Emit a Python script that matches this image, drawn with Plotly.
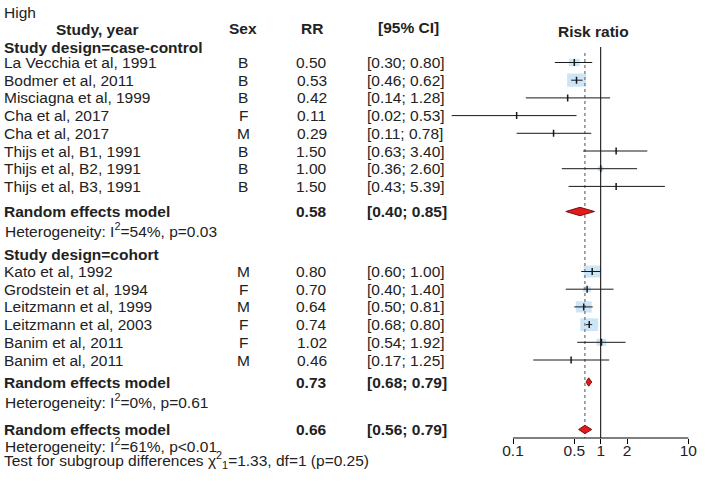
import math
import plotly.graph_objects as go

# ---------------- data ----------------
cc_study = ["La Vecchia et al, 1991", "Bodmer et al, 2011", "Misciagna et al, 1999",
            "Cha et al, 2017", "Cha et al, 2017", "Thijs et al, B1, 1991",
            "Thijs et al, B2, 1991", "Thijs et al, B3, 1991"]
cc_sex = ["B", "B", "B", "F", "M", "B", "B", "B"]
cc_rr = [0.50, 0.53, 0.42, 0.11, 0.29, 1.50, 1.00, 1.50]
cc_lo = [0.30, 0.46, 0.14, 0.02, 0.11, 0.63, 0.36, 0.43]
cc_hi = [0.80, 0.62, 1.28, 0.53, 0.78, 3.40, 2.60, 5.39]
cc_weight = [11, 19, 3, 2, 3, 3, 6, 2]

co_study = ["Kato et al, 1992", "Grodstein et al, 1994", "Leitzmann et al, 1999",
            "Leitzmann et al, 2003", "Banim et al, 2011", "Banim et al, 2011"]
co_sex = ["M", "F", "M", "F", "F", "M"]
co_rr = [0.80, 0.70, 0.64, 0.74, 1.02, 0.46]
co_lo = [0.60, 0.40, 0.50, 0.68, 0.54, 0.17]
co_hi = [1.00, 1.40, 0.81, 0.80, 1.92, 1.25]
co_weight = [17, 8, 16, 18, 10, 2]

summary_label = ["case-control", "cohort", "overall"]
summary_rr = [0.58, 0.73, 0.66]
summary_lo = [0.40, 0.68, 0.56]
summary_hi = [0.85, 0.79, 0.79]
heterogeneity = ["Heterogeneity: I<sup>2</sup>=54%, p=0.03",
                 "Heterogeneity: I<sup>2</sup>=0%, p=0.61",
                 "Heterogeneity: I<sup>2</sup>=61%, p<0.01"]
test_text = "Test for subgroup differences \u03c7<sup>2</sup><sub>1</sub>=1.33, df=1 (p=0.25)"

tick_vals = [0.1, 0.5, 1, 2, 10]
tick_text = ["0.1", "0.5", "1", "2", "10"]

# ---------------- layout constants ----------------
W, H = 707, 491
FONT = "Liberation Sans, Arial, sans-serif"
FS = 15.5
TXT = "#222222"
BOX = "#cce6f7"
X_DOM = (437.2, 697.7)
X_RANGE = (-1.9, 1.05)
PX_PER_DEC = (X_DOM[1] - X_DOM[0]) / (X_RANGE[1] - X_RANGE[0])
STEP = 17.7
cc_y = [62.5 + i * STEP for i in range(len(cc_study))]
co_y = [271.5 + i * STEP for i in range(len(co_study))]
summary_y = [211.5, 382.0, 429.5]
het_y = [230.0, 401.0, 444.5]
AXIS_Y = 438.0

COL_NAME, COL_SEX, COL_RR, COL_CI = 4, 245, 314, 370

fig = go.Figure()


def txt(x, y, s, anchor="left", bold=False):
    fig.add_annotation(x=x / W, y=y, xref="paper", yref="y",
                       text=f"<b>{s}</b>" if bold else s, showarrow=False,
                       xanchor=anchor, yanchor="middle", borderpad=0, borderwidth=0,
                       font=dict(family=FONT, size=FS, color=TXT))


def ci_str(lo, hi):
    return f"[{lo:.2f}; {hi:.2f}]"


# headers
txt(COL_NAME, 12, "High")
txt(98, 29, "Study, year", "center", True)
txt(COL_SEX, 28, "Sex", "center", True)
txt(COL_RR, 28, "RR", "center", True)
txt(411, 27, "[95% CI]", "center", True)
txt(598, 31, "Risk ratio", "center", True)
txt(COL_NAME, 47, "Study design=case-control", bold=True)
txt(COL_NAME, 254.5, "Study design=cohort", bold=True)

# study rows
all_rr, all_lo, all_hi, all_w, all_y = [], [], [], [], []
for names, sexes, rr, lo, hi, wt, ys in [
    (cc_study, cc_sex, cc_rr, cc_lo, cc_hi, cc_weight, cc_y),
    (co_study, co_sex, co_rr, co_lo, co_hi, co_weight, co_y),
]:
    for n, s, r, l, h, w, y in zip(names, sexes, rr, lo, hi, wt, ys):
        txt(COL_NAME, y, n)
        txt(COL_SEX, y, s, "center")
        txt(COL_RR, y, f"{r:.2f}", "center")
        txt(COL_CI, y, ci_str(l, h))
        all_rr.append(r); all_lo.append(l); all_hi.append(h); all_w.append(w); all_y.append(y)

# summary rows
for r, l, h, y, hy, ht in zip(summary_rr, summary_lo, summary_hi, summary_y, het_y, heterogeneity):
    txt(COL_NAME, y, "Random effects model", bold=True)
    txt(COL_RR, y, f"{r:.2f}", "center", True)
    txt(COL_CI, y, ci_str(l, h), bold=True)
    txt(COL_NAME + 1, hy, ht)
txt(COL_NAME, 459.5, test_text)

# weight boxes
for r, w, y in zip(all_rr, all_w, all_y):
    hw = w / 2 / PX_PER_DEC
    hh = 0.7 * w / 2
    fig.add_shape(type="rect", xref="x", yref="y", layer="below",
                  x0=math.log10(r) - hw, x1=math.log10(r) + hw, y0=y - hh, y1=y + hh,
                  fillcolor=BOX, line=dict(width=0))

# reference lines
fig.add_shape(type="line", xref="x", yref="y", layer="below", x0=0, x1=0, y0=47, y1=AXIS_Y,
              line=dict(color="black", width=1))
fig.add_shape(type="line", xref="x", yref="y", layer="below",
              x0=math.log10(summary_rr[2]), x1=math.log10(summary_rr[2]), y0=53, y1=AXIS_Y,
              line=dict(color="#8a8a8a", width=1.5, dash="dot"))
fig.add_shape(type="line", xref="x", yref="y", x0=math.log10(tick_vals[0]),
              x1=math.log10(tick_vals[-1]), y0=AXIS_Y, y1=AXIS_Y,
              line=dict(color="black", width=1))

# CI lines
cx, cy = [], []
for l, h, y in zip(all_lo, all_hi, all_y):
    cx += [math.log10(l), math.log10(h), None]
    cy += [y, y, None]
fig.add_trace(go.Scatter(x=cx, y=cy, mode="lines", line=dict(color="#1a1a1a", width=1),
                         hoverinfo="skip"))
fig.add_trace(go.Scatter(x=[math.log10(r) for r in all_rr], y=all_y, mode="markers",
                         marker=dict(symbol="line-ns", size=5,
                                     line=dict(color="#1a1a1a", width=1.5)),
                         hoverinfo="skip"))

# diamonds
DH = 4.2
for r, l, h, y in zip(summary_rr, summary_lo, summary_hi, summary_y):
    fig.add_trace(go.Scatter(
        x=[math.log10(l), math.log10(r), math.log10(h), math.log10(r), math.log10(l)],
        y=[y, y - DH, y, y + DH, y], mode="lines", fill="toself",
        fillcolor="#e3191c", line=dict(color="#7a1010", width=1), hoverinfo="skip"))

fig.update_layout(
    width=W, height=H, margin=dict(l=0, r=0, t=0, b=0),
    paper_bgcolor="white", plot_bgcolor="white", showlegend=False,
    xaxis=dict(domain=[X_DOM[0] / W, X_DOM[1] / W], range=list(X_RANGE),
               tickvals=[math.log10(v) for v in tick_vals], ticktext=tick_text,
               ticks="outside", ticklen=5, tickcolor="black", tickwidth=1,
               ticklabelstandoff=-7,
               showline=False, showgrid=False, zeroline=False,
               anchor="free", position=(H - AXIS_Y) / H,
               tickfont=dict(family=FONT, size=FS, color=TXT)),
    yaxis=dict(domain=[0, 1], range=[H, 0], visible=False, showgrid=False, zeroline=False),
)

fig.write_html(
    "out.html", config={"displayModeBar": False},
    post_script=("document.documentElement.style.overflow='hidden';"
                 "document.body.style.overflow='hidden';"
                 "document.body.style.margin='0';document.body.style.padding='0';"))
